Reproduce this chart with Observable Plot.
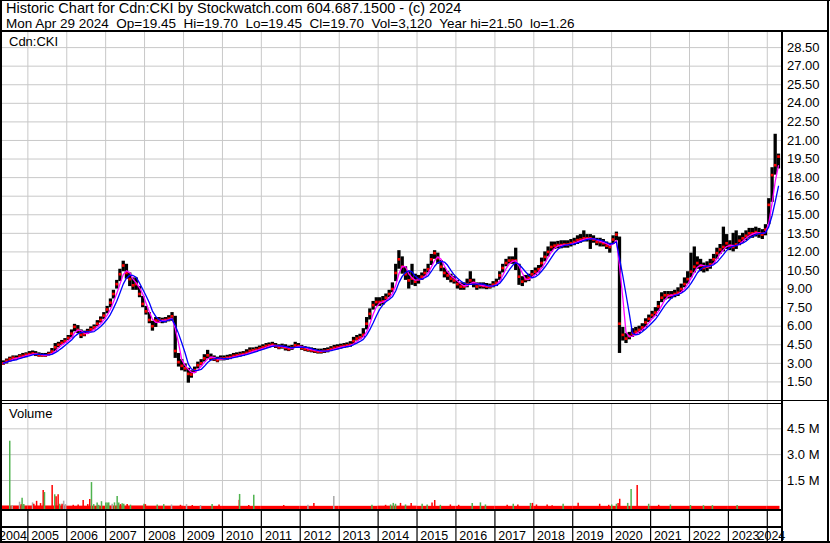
<!DOCTYPE html>
<html><head><meta charset="utf-8">
<script src="https://cdn.jsdelivr.net/npm/d3@7"></script>
<script src="https://cdn.jsdelivr.net/npm/@observablehq/plot@0.6"></script>
<style>
body{margin:0;background:#fff;}
#chart{position:relative;width:830px;height:543px;background:#fff;overflow:hidden;font-family:"Liberation Sans",Arial,sans-serif;color:#000;}
#chart svg{position:absolute;left:0;}
.ln{position:absolute;background:#000;z-index:3;}
.txt{position:absolute;white-space:pre;z-index:2;color:#000;}
</style></head><body>
<div id="chart">
 <div class="txt" style="left:6px;top:1.4px;font-size:14.5px;line-height:14.5px">Historic Chart for Cdn:CKI by Stockwatch.com 604.687.1500 - (c) 2024</div>
 <div class="txt" style="left:6px;top:16.6px;font-size:13.5px;line-height:13.5px">Mon Apr 29 2024  Op=19.45  Hi=19.70  Lo=19.45  Cl=19.70  Vol=3,120  Year hi=21.50  lo=1.26</div>
 <div class="txt" style="left:9px;top:35px;font-size:13px;line-height:13px">Cdn:CKI</div>
 <div class="txt" style="left:9px;top:407px;font-size:13px;line-height:13px">Volume</div>
 <div class="ln" style="left:0;top:0;width:2px;height:543px"></div>
 <div class="ln" style="left:0;top:0;width:830px;height:1px"></div>
 <div class="ln" style="left:827px;top:0;width:2px;height:543px"></div>
 <div class="ln" style="left:0;top:541px;width:830px;height:2px"></div>
 <div class="ln" style="left:0;top:30px;width:829px;height:2px"></div>
 <div class="ln" style="left:781px;top:31px;width:2px;height:512px"></div>
 <div class="ln" style="left:0;top:400px;width:829px;height:1px"></div>
 <div class="ln" style="left:0;top:403px;width:782px;height:1px"></div>
 <div class="ln" style="left:0;top:509px;width:782px;height:2px"></div>
 <div class="ln" style="left:0;top:526px;width:782px;height:1.5px"></div>
</div>
<script>
// ---- monthly price data, May 2004 .. Apr 2024 ----
const firstMonth = new Date(Date.UTC(2004, 4, 1));
const lastMonthEnd = new Date(Date.UTC(2024, 4, 1));
const close = [
 3.00,3.20,3.35,3.45,3.40,3.55,3.60,3.70,
 3.75,3.80,3.75,3.65,3.65,3.65,3.75,3.95,4.30,4.50,4.65,4.80,
 5.05,5.40,5.95,5.70,5.30,5.35,5.55,5.75,5.90,6.20,6.50,6.85,
 7.35,7.90,8.60,9.40,10.20,10.90,10.30,9.80,9.30,9.40,8.60,7.80,
 7.20,6.50,6.00,6.45,6.50,6.45,6.50,6.60,6.80,4.00,3.10,2.80,
 2.60,2.15,2.10,2.45,2.85,3.00,3.40,3.65,3.45,3.35,3.25,3.40,
 3.40,3.45,3.50,3.60,3.65,3.70,3.75,3.85,4.00,4.05,4.10,4.20,
 4.30,4.40,4.45,4.50,4.40,4.30,4.35,4.25,4.15,4.25,4.45,4.40,
 4.25,4.15,4.10,4.05,4.00,3.95,3.95,4.00,4.05,4.15,4.25,4.30,
 4.35,4.40,4.45,4.50,4.80,5.00,5.10,5.30,6.20,7.00,7.70,7.95,
 7.95,8.00,8.30,8.60,9.00,10.30,11.40,10.80,10.20,9.70,9.85,9.60,
 9.80,10.00,10.30,10.60,11.40,11.90,11.50,10.80,10.30,10.10,9.85,9.70,
 9.40,9.20,9.20,9.40,9.70,9.50,9.20,9.30,9.25,9.20,9.20,9.35,
 9.50,10.10,10.70,11.10,11.30,11.30,11.30,10.00,9.60,9.80,9.90,10.20,
 10.40,10.60,11.10,11.60,12.00,12.40,12.50,12.55,12.55,12.60,12.60,12.70,
 12.80,12.95,13.00,13.10,13.10,13.10,13.00,12.80,12.80,12.70,12.50,12.40,
 13.00,13.40,6.20,5.30,5.00,5.20,5.40,5.55,5.70,5.90,6.30,6.60,
 6.90,7.10,7.60,8.30,8.50,8.50,8.50,8.60,8.70,9.00,9.40,9.80,
 10.40,10.80,11.10,10.90,10.70,10.80,11.00,11.40,11.90,12.20,12.40,12.70,
 12.50,12.40,12.60,12.90,13.10,13.30,13.50,13.50,13.60,13.50,13.40,13.80,
 15.80,18.20,19.00,19.70
];
const high = [
 3.20,3.35,3.50,3.60,3.60,3.70,3.80,3.85,
 3.95,4.00,3.95,3.85,3.80,3.80,3.90,4.20,4.60,4.70,4.85,5.00,
 5.25,5.70,6.15,6.05,5.70,5.60,5.75,5.95,6.10,6.45,6.75,7.10,
 7.60,8.20,8.90,9.70,10.60,11.25,11.00,10.30,9.90,9.90,9.20,8.40,
 7.60,7.10,6.40,6.70,6.70,6.65,6.70,6.85,7.10,6.80,3.80,3.30,
 2.95,2.60,2.40,2.70,3.10,3.30,3.70,4.05,3.75,3.60,3.50,3.60,
 3.60,3.65,3.70,3.80,3.85,3.90,3.95,4.10,4.25,4.25,4.30,4.40,
 4.50,4.60,4.65,4.70,4.60,4.50,4.55,4.50,4.40,4.45,4.70,4.60,
 4.45,4.35,4.30,4.25,4.20,4.15,4.15,4.20,4.25,4.35,4.45,4.50,
 4.55,4.60,4.65,4.75,5.10,5.25,5.35,5.80,6.70,7.40,8.00,8.30,
 8.30,8.40,8.60,8.90,9.50,11.00,12.10,11.60,10.80,10.40,11.00,10.20,
 10.10,10.30,10.60,11.00,11.80,12.10,11.90,11.30,10.70,10.40,10.20,10.00,
 9.70,9.50,9.50,9.80,10.40,9.80,9.50,9.50,9.50,9.45,9.40,9.60,
 9.80,10.40,11.00,11.40,11.60,11.60,12.30,11.00,10.00,10.10,10.20,10.50,
 10.70,10.90,11.50,12.00,12.40,12.80,12.80,12.85,12.90,12.90,12.90,13.00,
 13.10,13.30,13.40,13.70,13.40,13.40,13.30,13.10,13.10,13.00,12.80,12.70,
 13.30,13.60,13.20,5.90,5.40,5.50,5.80,5.90,6.00,6.20,6.60,6.90,
 7.20,7.50,8.00,8.70,8.80,8.80,8.80,8.90,9.10,9.40,9.90,10.40,
 11.90,12.40,11.60,11.40,11.10,11.20,11.40,11.80,12.30,12.60,14.00,13.40,
 12.90,13.50,13.70,13.30,13.50,13.70,13.90,13.90,14.00,13.90,13.80,14.20,
 16.30,18.80,21.50,19.90
];
const low = [
 2.85,2.95,3.10,3.20,3.25,3.35,3.40,3.45,
 3.60,3.65,3.55,3.50,3.50,3.50,3.60,3.75,3.95,4.25,4.45,4.60,
 4.85,5.05,5.55,5.40,5.00,5.15,5.35,5.55,5.70,5.95,6.25,6.55,
 7.00,7.50,8.20,9.00,9.60,10.40,9.80,9.20,8.90,8.90,8.30,7.50,
 6.90,6.20,5.60,5.90,6.25,6.20,6.25,6.35,6.40,3.40,2.70,2.40,
 2.30,1.40,1.80,2.20,2.55,2.80,3.10,3.35,3.20,3.15,3.05,3.20,
 3.20,3.25,3.30,3.40,3.45,3.50,3.55,3.65,3.80,3.85,3.90,4.00,
 4.10,4.20,4.25,4.30,4.20,4.10,4.15,4.00,3.95,4.05,4.25,4.20,
 4.05,3.95,3.90,3.85,3.80,3.75,3.75,3.80,3.85,3.95,4.05,4.10,
 4.15,4.20,4.25,4.30,4.50,4.80,4.90,5.10,5.70,6.50,7.30,7.60,
 7.60,7.70,8.00,8.30,8.70,9.60,10.60,10.20,9.70,9.00,9.30,9.20,
 9.40,9.70,10.00,10.30,10.90,11.40,11.00,10.40,9.90,9.70,9.50,9.40,
 9.00,8.90,8.90,9.10,9.30,9.10,8.90,9.00,9.00,8.95,9.00,9.10,
 9.20,9.70,10.30,10.80,11.00,11.00,10.50,9.30,9.20,9.50,9.60,9.90,
 10.10,10.30,10.70,11.20,11.60,12.00,12.20,12.25,12.25,12.30,12.30,12.40,
 12.50,12.60,12.70,12.80,12.80,12.20,12.70,12.50,12.40,12.40,12.20,11.90,
 12.60,12.90,3.80,4.80,4.60,4.90,5.10,5.30,5.40,5.60,5.90,6.30,
 6.60,6.80,7.20,7.90,8.10,8.20,8.20,8.30,8.40,8.70,9.10,9.40,
 9.90,10.30,10.60,10.40,10.30,10.40,10.60,11.00,11.40,11.80,12.00,12.20,
 12.10,12.00,12.20,12.50,12.70,12.90,13.10,13.10,13.20,13.10,13.00,13.30,
 14.20,16.00,18.20,18.70
];
// ---- volume: notable daily bars [date, millions of shares, g=up r=down n=unchanged] ----
const volSpikes = [
 ["2004-07-15",3.78,"g"],["2004-08-07",0.05,"n"],["2004-10-15",0.24,"n"],["2004-10-31",0.10,"r"],["2004-11-08",0.47,"g"],["2004-11-24",0.10,"g"],
 ["2005-02-14",0.20,"n"],["2005-02-26",0.12,"r"],["2005-03-24",0.29,"r"],["2005-04-30",0.16,"r"],["2005-05-25",0.92,"r"],["2005-06-06",0.80,"g"],["2005-08-17",1.21,"r"],["2005-09-10",0.67,"g"],["2005-09-23",0.55,"r"],["2005-10-12",0.67,"r"],["2005-10-27",0.12,"g"],["2005-11-18",0.12,"r"],["2005-12-03",0.30,"n"],["2005-12-19",0.10,"n"],
 ["2006-03-03",0.06,"r"],["2006-04-18",0.07,"r"],["2006-06-04",0.34,"r"],["2006-07-17",0.10,"r"],["2006-08-05",0.40,"r"],["2006-08-21",1.38,"g"],["2006-09-11",0.10,"g"],["2006-10-13",0.20,"g"],["2006-10-28",0.06,"g"],["2006-11-23",0.27,"g"],
 ["2007-01-02",0.20,"g"],["2007-01-15",0.19,"g"],["2007-01-30",0.20,"g"],["2007-03-03",0.12,"n"],["2007-03-25",0.20,"g"],["2007-04-19",0.57,"g"],["2007-05-04",0.20,"g"],["2007-05-20",0.10,"r"],["2007-06-05",0.15,"g"],["2007-06-20",0.12,"g"],["2007-07-22",0.10,"r"],["2007-08-22",0.07,"g"],["2007-12-27",0.12,"g"],
 ["2008-01-09",0.10,"r"],["2008-04-29",0.07,"g"],["2008-06-29",0.10,"g"],["2008-09-10",0.08,"n"],["2008-12-03",0.06,"r"],
 ["2009-01-29",0.10,"n"],["2009-03-24",0.05,"r"],["2009-06-09",0.05,"n"],["2009-09-26",0.10,"g"],["2009-11-30",0.08,"r"],
 ["2010-06-08",0.35,"r"],["2010-06-11",0.69,"g"],["2010-09-05",0.05,"r"],["2010-10-22",0.64,"g"],
 ["2011-07-30",0.05,"r"],
 ["2012-03-13",0.06,"n"],["2012-05-08",0.16,"r"],["2012-11-11",0.57,"n"],
 ["2013-11-04",0.06,"g"],
 ["2014-03-12",0.06,"r"],["2014-04-28",0.08,"g"],["2014-05-23",0.17,"g"],["2014-06-13",0.12,"g"],["2014-07-30",0.17,"r"],["2014-09-15",0.08,"g"],["2014-11-07",0.17,"r"],
 ["2015-02-18",0.12,"g"],["2015-04-06",0.08,"g"],["2015-05-22",0.20,"r"],["2015-06-16",0.34,"r"],["2015-08-08",0.06,"g"],["2015-11-10",0.08,"r"],
 ["2016-01-27",0.06,"r"],["2016-06-02",0.17,"g"],["2016-08-18",0.20,"g"],["2016-10-04",0.08,"g"],
 ["2017-04-26",0.06,"r"],["2017-06-22",0.12,"g"],["2017-08-04",0.08,"r"],["2017-12-01",0.17,"g"],["2017-12-19",0.17,"r"],
 ["2018-01-26",0.08,"r"],["2018-05-06",0.08,"r"],["2018-06-22",0.04,"r"],["2018-10-03",0.12,"g"],
 ["2019-02-21",0.18,"r"],["2019-09-11",0.12,"r"],["2019-12-05",0.06,"r"],
 ["2020-01-02",0.08,"g"],["2020-02-15",0.12,"g"],["2020-03-02",0.17,"r"],["2020-03-17",0.41,"r"],["2020-05-31",0.17,"g"],["2020-07-02",0.98,"g"],["2020-08-28",1.21,"r"],["2020-12-14",0.12,"g"],
 ["2021-03-18",0.06,"r"],["2021-07-06",0.08,"g"],
 ["2022-01-10",0.05,"g"],["2022-05-12",0.04,"g"],["2022-08-04",0.04,"g"],
 ["2023-03-24",0.05,"g"]
];
// typical (baseline) daily volume per year, millions
const volYears = [2004,2005,2006,2007,2008,2009,2010,2011,2012,2013,2014,2015,2016,2017,2018,2019,2020,2021,2022,2023,2024];
const volBase  = [0.02,0.02,0.01,0.02,0.01,0.00,0.00,0.00,0.00,0.00,0.01,0.00,0.00,0.00,0.00,0.00,0.00,0.00,0.00,0.00,0.00];
const priceTicks = [1.5,3,4.5,6,7.5,9,10.5,12,13.5,15,16.5,18,19.5,21,22.5,24,25.5,27,28.5];
const volTicks = [1.5,3,4.5];

// ---- build ----
const dataStart = new Date(Date.UTC(2004,4,8)), dataEnd = new Date(Date.UTC(2024,3,29));
const xDomain = [new Date(Date.UTC(2004,4,8)), new Date(Date.UTC(2024,4,18))];
const months = d3.utcMonth.range(firstMonth, lastMonthEnd);
const bars = months.map((m,i) => ({date: d3.utcDay.offset(m,14), close: close[i], high: high[i], low: low[i]}));
const yearStarts = d3.utcYear.range(new Date(Date.UTC(2005,0,1)), new Date(Date.UTC(2024,0,2)));
const colorOf = {g:"#4fb34f", r:"#ff0000", n:"#a8a8a8"};
const VMIN = -0.184;
const baseRects = volYears.map((y,i) => ({
  x1: new Date(Math.max(Date.UTC(y,0,1), +dataStart)),
  x2: new Date(Math.min(Date.UTC(y+1,0,1), +dataEnd)),
  v: volBase[i]}));
const yearLabels = d3.range(2004, 2025).map(y => {
  const s = Math.max(Date.UTC(y,0,1), +dataStart), e = Math.min(Date.UTC(y+1,0,1), +dataEnd);
  return {label: String(y), date: new Date((s+e)/2 - 21*864e5)};
});
const font = '"Liberation Sans", Arial, sans-serif';
const common = {width: 830, marginLeft: 2, marginRight: 48.5};
const xOpt = {type: "utc", domain: xDomain, axis: null};

const price = Plot.plot({
  ...common, height: 370, marginTop: 0, marginBottom: 1,
  x: xOpt,
  y: {domain: [0, 29.8], axis: "right", ticks: priceTicks, tickFormat: d => d.toFixed(2), tickSize: 0, tickPadding: 5, label: null},
  style: {background: "transparent", fontFamily: font, fontSize: "13px", color: "#000"},
  marks: [
    Plot.ruleY(priceTicks, {stroke: "#c8c8c8"}),
    Plot.ruleX(yearStarts, {stroke: "#c8c8c8"}),
    Plot.ruleX(bars, {x: "date", y1: "low", y2: "high", stroke: "#000", strokeWidth: 3.3}),
    Plot.dot(bars, {x: "date", y: "close", symbol: "square", r: 1.5, fill: "#ff0000", stroke: "none"}),
    Plot.lineY(bars, Plot.windowY({k: 3, anchor: "end"}, {x: "date", y: "close", stroke: "#ff00ff", strokeWidth: 1.3})),
    Plot.lineY(bars, Plot.windowY({k: 5, anchor: "end"}, {x: "date", y: "close", stroke: "#0000ff", strokeWidth: 1.3}))
  ]
});
price.style.top = "31px";

const vol = Plot.plot({
  ...common, height: 106, marginTop: 0, marginBottom: 0,
  x: xOpt,
  y: {domain: [VMIN, 5.97], axis: "right", ticks: volTicks, tickFormat: d => d.toFixed(1) + " M", tickSize: 0, tickPadding: 5, label: null},
  color: {type: "identity"},
  style: {background: "transparent", fontFamily: font, fontSize: "13px", color: "#000"},
  marks: [
    Plot.ruleY(volTicks, {stroke: "#c8c8c8"}),
    Plot.ruleX(yearStarts, {stroke: "#c8c8c8"}),
    Plot.rectY(baseRects, {x1: "x1", x2: "x2", y1: VMIN, y2: "v", fill: "#ff0000"}),
    Plot.ruleX(volSpikes, {x: d => new Date(d[0] + "T00:00:00Z"), y1: VMIN, y2: d => d[1], stroke: d => colorOf[d[2]], strokeWidth: 1.5})
  ]
});
vol.style.top = "403px";

const strip = Plot.plot({
  ...common, height: 33, marginTop: 0, marginBottom: 0,
  x: xOpt,
  y: {domain: [0, 33], range: [0, 33], axis: null},
  style: {background: "transparent", fontFamily: font, fontSize: "12.5px", color: "#000"},
  marks: [
    Plot.ruleX(yearStarts, {y1: 0, y2: 31, stroke: "#000", strokeWidth: 1.2}),
    Plot.text(yearLabels, {x: "date", y: 25, text: "label", fill: "#000"})
  ]
});
strip.style.top = "510px";

const chart = document.getElementById("chart");
chart.prepend(strip); chart.prepend(vol); chart.prepend(price);
</script>
</body></html>
